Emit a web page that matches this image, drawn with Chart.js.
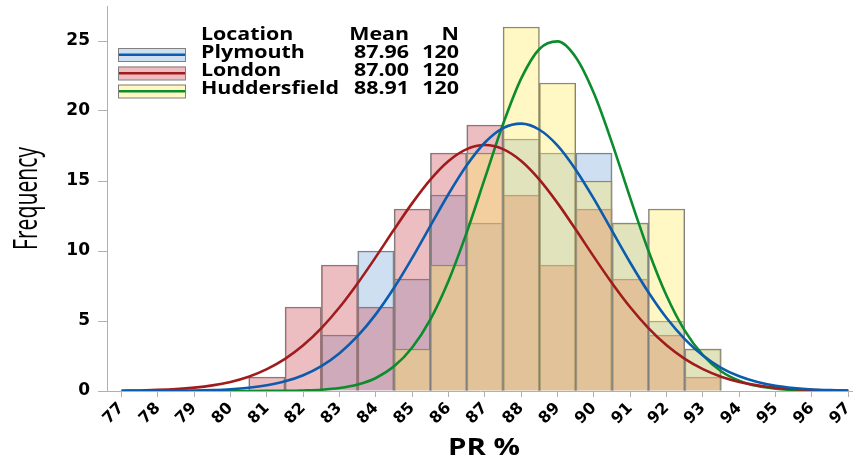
<!DOCTYPE html>
<html>
<head>
<meta charset="utf-8">
<script src="https://cdn.jsdelivr.net/npm/chart.js@4.4.1/dist/chart.umd.min.js"></script>
<style>
  html, body { margin: 0; padding: 0; background: #fff; }
  #wrap { width: 853px; height: 466px; }
</style>
</head>
<body>
<div id="wrap"><canvas id="histChart" width="853" height="466"></canvas></div>
<script>
// histogram bins (PR %) and counts per location
var binCenters = [81, 82, 83, 84, 85, 86, 87, 88, 89, 90, 91, 92, 93];
var plymouthCounts = [null, null, 4, 10, 8, 14, 12, 18, 17, 17, 12, 5, 3];
var londonCounts = [1, 6, 9, 6, 13, 17, 19, 14, 9, 13, 8, 4, 1];
var huddCounts = [null, null, null, null, 3, 9, 17, 26, 22, 15, 12, 13, 3];

// fitted normal curves, every 0.5
var curveX = [77, 77.5, 78, 78.5, 79, 79.5, 80, 80.5, 81, 81.5, 82, 82.5, 83, 83.5, 84, 84.5, 85, 85.5, 86, 86.5,
  87, 87.5, 88, 88.5, 89, 89.5, 90, 90.5, 91, 91.5, 92, 92.5, 93, 93.5, 94, 94.5, 95, 95.5, 96, 96.5, 97];
var plymouthFit = [0.00, 0.00, 0.01, 0.02, 0.03, 0.06, 0.12, 0.23, 0.41, 0.69, 1.13, 1.78, 2.70, 3.93, 5.49, 7.37, 9.51, 11.80, 14.07, 16.12,
  17.75, 18.78, 19.10, 18.66, 17.53, 15.81, 13.72, 11.43, 9.16, 7.05, 5.21, 3.71, 2.53, 1.66, 1.05, 0.64, 0.37, 0.21, 0.11, 0.06, 0.03];
var londonFit = [0.02, 0.04, 0.08, 0.14, 0.24, 0.40, 0.65, 1.02, 1.56, 2.29, 3.26, 4.49, 5.98, 7.70, 9.58, 11.53, 13.42, 15.10, 16.43, 17.28,
  17.57, 17.28, 16.43, 15.10, 13.42, 11.53, 9.58, 7.70, 5.98, 4.49, 3.26, 2.29, 1.56, 1.02, 0.65, 0.40, 0.24, 0.14, 0.08, 0.04, 0.02];
var huddFit = [0, 0, 0, 0, 0, 0, 0.00, 0.00, 0.01, 0.01, 0.04, 0.09, 0.21, 0.46, 0.93, 1.76, 3.11, 5.12, 7.88, 11.33,
  15.20, 19.07, 22.33, 24.43, 24.97, 23.84, 21.26, 17.71, 13.78, 10.02, 6.80, 4.31, 2.56, 1.41, 0.73, 0.35, 0.16, 0.07, 0.03, 0.01, 0.00];

// axis ticks
var xTickLabels = [77, 78, 79, 80, 81, 82, 83, 84, 85, 86, 87, 88, 89, 90, 91, 92, 93, 94, 95, 96, 97];
var yTickLabels = [0, 5, 10, 15, 20, 25];

// legend table
var locations = ["Plymouth", "London", "Huddersfield"];
var means = ["87.96", "87.00", "88.91"];
var nValues = ["120", "120", "120"];

var fillColors = ["rgba(130,170,220,0.38)", "rgba(205,85,95,0.38)", "rgba(255,235,100,0.38)"];
var lineColors = ["#0b5cad", "#a01c1c", "#0c8c2c"];
var edgeColor = "#7f7f7f";

function points(xs, ys) {
  return xs.map(function (x, i) { return { x: x, y: ys[i] }; });
}

// higher order is painted first, so yellow ends up on top
function barSet(label, counts, k, order) {
  return {
    type: "bar",
    label: label,
    data: points(binCenters, counts),
    backgroundColor: fillColors[k],
    borderColor: edgeColor,
    borderWidth: 1,
    borderSkipped: "start",
    barPercentage: 1,
    categoryPercentage: 1,
    grouped: false,
    order: order
  };
}

function lineSet(label, fit, k) {
  return {
    type: "line",
    label: label + " fit",
    data: points(curveX, fit),
    borderColor: lineColors[k],
    borderWidth: 2.6,
    pointRadius: 0,
    fill: false,
    cubicInterpolationMode: "monotone",
    order: 1
  };
}

function drawScaled(ctx, text, x, y, sx, align) {
  ctx.save();
  ctx.translate(x, y);
  ctx.scale(sx, 1);
  ctx.textAlign = align;
  ctx.fillText(text, 0, 0);
  ctx.restore();
}

var textPlugin = {
  id: "texts",
  afterDraw: function (chart) {
    var ctx = chart.ctx;
    ctx.save();
    ctx.fillStyle = "#000";
    ctx.textBaseline = "alphabetic";

    // y title, squeezed along its length
    ctx.font = "33px 'Open Sans'";
    var w = ctx.measureText("Frequency").width;
    ctx.save();
    ctx.translate(37, 198.5);
    ctx.rotate(-Math.PI / 2);
    ctx.scale(103 / w, 1);
    ctx.textAlign = "center";
    ctx.fillText("Frequency", 0, 0);
    ctx.restore();

    // x title
    ctx.font = "bold 23px 'Open Sans'";
    w = ctx.measureText("PR %").width;
    drawScaled(ctx, "PR %", 484, 455, 72 / w, "center");

    // legend table
    ctx.font = "bold 17px 'Open Sans'";
    var sx = 138 / ctx.measureText("Huddersfield").width;
    drawScaled(ctx, "Location", 201, 39.5, sx, "left");
    drawScaled(ctx, "Mean", 409, 39.5, sx, "right");
    drawScaled(ctx, "N", 459, 39.5, sx, "right");
    var rowY = [57.5, 75.5, 93.5];
    var boxTop = [48, 66.5, 84.5];
    for (var i = 0; i < locations.length; i++) {
      ctx.fillStyle = "#000";
      drawScaled(ctx, locations[i], 201, rowY[i], sx, "left");
      drawScaled(ctx, means[i], 409, rowY[i], sx, "right");
      drawScaled(ctx, nValues[i], 459, rowY[i], sx, "right");

      ctx.fillStyle = fillColors[i];
      ctx.fillRect(118, boxTop[i], 68, 13.5);
      ctx.strokeStyle = edgeColor;
      ctx.lineWidth = 1;
      ctx.strokeRect(118.5, boxTop[i] + 0.5, 67, 13);
      ctx.strokeStyle = lineColors[i];
      ctx.lineWidth = 2.5;
      ctx.beginPath();
      ctx.moveTo(119, boxTop[i] + 6.8);
      ctx.lineTo(185, boxTop[i] + 6.8);
      ctx.stroke();
    }
    ctx.restore();
  }
};

new Chart(document.getElementById("histChart"), {
  data: {
    datasets: [
      barSet("Plymouth", plymouthCounts, 0, 5),
      barSet("London", londonCounts, 1, 4),
      barSet("Huddersfield", huddCounts, 2, 3),
      lineSet("Plymouth", plymouthFit, 0),
      lineSet("London", londonFit, 1),
      lineSet("Huddersfield", huddFit, 2)
    ]
  },
  options: {
    responsive: false,
    animation: false,
    layout: { padding: { top: 6, right: 0, bottom: 0, left: 0 } },
    plugins: {
      legend: { display: false },
      tooltip: { enabled: false }
    },
    scales: {
      x: {
        type: "linear",
        offset: false,
        min: 76.6,
        max: 97.13,
        afterBuildTicks: function (s) {
          s.ticks = xTickLabels.map(function (v) { return { value: v }; });
        },
        afterFit: function (s) {
          s.height = 75;
          s.paddingLeft = 0;
          s.paddingRight = 0;
        },
        ticks: {
          autoSkip: false,
          minRotation: 45,
          maxRotation: 45,
          padding: 2,
          color: "#000",
          font: { family: "'DejaVu Sans'", size: 16, weight: "bold" }
        },
        grid: { offset: false, drawOnChartArea: false, drawTicks: true, tickLength: 6, color: "#b0b0b0" },
        border: { color: "#b0b0b0" }
      },
      y: {
        min: 0,
        max: 27.5,
        afterBuildTicks: function (s) {
          s.ticks = yTickLabels.map(function (v) { return { value: v }; });
        },
        afterFit: function (s) {
          s.width = 107;
          s.paddingTop = 0;
          s.paddingBottom = 0;
        },
        ticks: {
          padding: 8,
          color: "#000",
          font: { family: "'DejaVu Sans'", size: 17, weight: "bold" }
        },
        grid: { drawOnChartArea: false, drawTicks: true, tickLength: 9, color: "#b0b0b0" },
        border: { color: "#b0b0b0" }
      }
    }
  },
  plugins: [textPlugin]
});
</script>
</body>
</html>
